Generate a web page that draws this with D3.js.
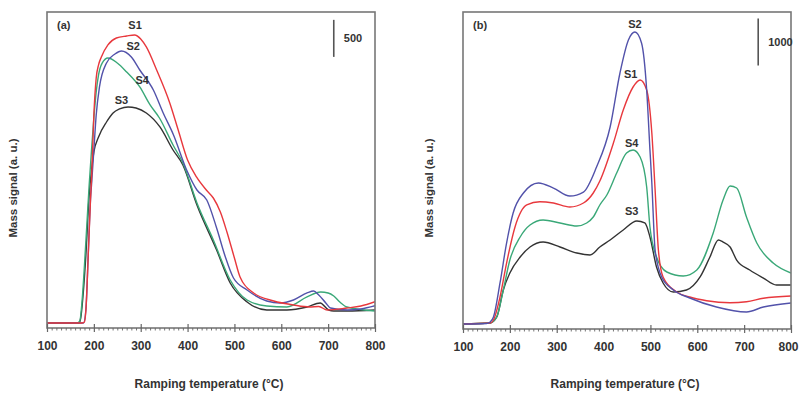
<!DOCTYPE html>
<html><head><meta charset="utf-8">
<script src="https://cdn.jsdelivr.net/npm/d3@7"></script>
<style>
html,body{margin:0;padding:0;background:#fff;}
svg text{font-family:"Liberation Sans",Arial,sans-serif;font-weight:bold;fill:#333;}
</style></head>
<body>
<svg id="chart" width="800" height="393"></svg>
<script>
// ---------- data (temperature in °C, mass signal in a.u.) ----------
const xTicks = [100,200,300,400,500,600,700,800];
const seriesNames = ["S1","S2","S3","S4"];
const seriesColors = {S1:"#e8383d", S2:"#5252aa", S3:"#333333", S4:"#3aa878"};

// Panel (a)
const a_S1 = [[100,68],[175,68],[180,81],[183,243],[188,986],[193,1755],[195,1998],[200,2876],[205,3375],[210,3551],[216,3659],[230,3821],[248,3915],[270,3942],[287,3956],[300,3902],[312,3794],[334,3483],[362,3038],[380,2673],[400,2268],[419,2039],[440,1863],[455,1755],[470,1566],[484,1296],[500,945],[512,689],[541,473],[584,365],[626,311],[660,284],[680,290],[698,243],[740,270],[770,297],[800,355]];
const a_S2 = [[100,68],[178,68],[183,243],[188,986],[193,1755],[195,1931],[200,2403],[205,2876],[212,3254],[227,3578],[245,3699],[259,3740],[280,3659],[298,3483],[327,3213],[348,2903],[370,2606],[398,2133],[420,1863],[441,1728],[462,1350],[480,972],[498,675],[527,513],[569,365],[598,338],[626,378],[655,473],[669,500],[680,446],[695,338],[705,270],[741,243],[770,257],[800,300]];
const a_S3 = [[100,68],[168,68],[172,135],[177,446],[183,986],[190,1796],[195,2133],[200,2376],[210,2579],[227,2781],[241,2903],[255,2957],[273,2984],[290,2970],[312,2903],[341,2714],[369,2403],[390,2201],[420,1661],[462,1053],[491,608],[527,351],[569,243],[612,243],[655,284],[683,338],[701,243],[712,230],[740,230],[800,243]];
const a_S4 = [[100,68],[165,68],[170,95],[175,378],[180,851],[185,1391],[190,1931],[195,2403],[200,2835],[205,3186],[210,3416],[218,3578],[230,3645],[250,3578],[270,3456],[298,3254],[320,3011],[340,2835],[369,2471],[390,2228],[420,1688],[455,1188],[491,648],[527,378],[569,297],[612,284],[655,419],[684,486],[700,473],[712,432],[725,351],[740,284],[800,230]];

// Panel (b)
const b_S1 = [[100,106],[158,128],[165,192],[179,681],[193,1404],[211,2171],[236,2639],[264,2709],[293,2681],[328,2596],[357,2681],[378,2894],[392,3149],[421,3958],[442,4660],[463,5150],[478,5299],[492,5086],[503,4171],[510,2958],[517,1681],[527,1107],[556,787],[584,681],[620,602],[670,560],[705,581],[741,653],[800,702]];
const b_S2 = [[100,106],[150,117],[158,149],[165,255],[179,979],[193,1830],[207,2468],[229,2894],[261,3107],[293,3000],[328,2830],[357,2915],[385,3447],[414,4299],[435,5448],[453,6150],[467,6320],[481,6086],[492,5086],[499,3809],[503,3107],[510,1681],[524,1107],[549,830],[584,660],[641,468],[705,362],[741,468],[800,553]];
const b_S3 = [[100,106],[158,128],[172,255],[186,830],[200,1192],[222,1532],[243,1745],[271,1851],[307,1745],[343,1617],[371,1575],[392,1745],[414,1894],[442,2107],[471,2298],[488,2256],[499,1958],[513,1319],[527,979],[549,787],[577,830],[606,1107],[627,1532],[645,1894],[655,1851],[670,1745],[684,1468],[712,1256],[741,1085],[769,936],[800,936]];
const b_S4 = [[100,106],[158,128],[172,255],[186,830],[200,1468],[222,1958],[243,2213],[271,2320],[307,2256],[343,2192],[364,2256],[378,2383],[392,2639],[407,2852],[428,3320],[449,3745],[463,3809],[478,3660],[492,3022],[499,2171],[513,1532],[535,1213],[570,1128],[599,1256],[634,2043],[655,2745],[670,3043],[684,3000],[705,2383],[727,1830],[762,1404],[800,1192]];

// Series label positions (data coords) and scale bars
const a_labels = [["S1",288,4090],["S2",284,3800],["S4",303,3350],["S3",259,3080]];
const b_labels = [["S2",467,6490],["S1",458,5430],["S4",460,3965],["S3",460,2500]];
const a_bar = {value:500, top:4160, label:"500"};
const b_bar = {value:1000, top:6610, label:"1000"};

// ---------- drawing ----------
const svg = d3.select("#chart");

function panel(opt){
  const x = d3.scaleLinear().domain([100,800]).range([opt.left,opt.right]);
  const y = d3.scaleLinear().domain([0,opt.ymax]).range([opt.bottom,opt.top]);
  const g = svg.append("g");

  // curves
  const line = d3.line().x(d=>x(d[0])).y(d=>y(d[1])).curve(d3.curveMonotoneX);
  const clipId = "clip"+opt.tag;
  svg.append("clipPath").attr("id",clipId).append("rect")
    .attr("x",opt.left).attr("y",opt.top).attr("width",opt.right-opt.left).attr("height",opt.bottom-opt.top);
  const cg = g.append("g").attr("clip-path",`url(#${clipId})`);
  opt.order.forEach(name=>{
    cg.append("path").datum(opt.series[name]).attr("d",line)
      .attr("fill","none").attr("stroke",seriesColors[name]).attr("stroke-width",1.4)
      .attr("stroke-linejoin","round");
  });

  // frame
  g.append("rect").attr("x",opt.left).attr("y",opt.top)
    .attr("width",opt.right-opt.left).attr("height",opt.bottom-opt.top)
    .attr("fill","none").attr("stroke","#777").attr("stroke-width",1.6);

  // minor ticks
  const minor = d3.range(100,801,10).filter(v=>v%100!==0);
  const ax1 = g.append("g").attr("transform",`translate(0,${opt.bottom})`)
    .call(d3.axisBottom(x).tickValues(minor).tickSize(2.5).tickFormat(""));
  ax1.select(".domain").remove();
  ax1.selectAll("line").attr("stroke","#666").attr("stroke-width",0.9);

  // major ticks + labels
  const ax2 = g.append("g").attr("transform",`translate(0,${opt.bottom})`)
    .call(d3.axisBottom(x).tickValues(xTicks).tickSize(4).tickPadding(9).tickFormat(d3.format("d")));
  ax2.select(".domain").remove();
  ax2.selectAll("line").attr("y1",-4).attr("stroke","#666").attr("stroke-width",1.2);
  ax2.selectAll("text").style("font-size","12px").style("font-family","'Liberation Sans',Arial,sans-serif")
    .style("font-weight","bold").attr("fill","#333")
    .attr("dx", d => (d===800 && opt.right>780) ? -3 : 0);

  // axis titles
  const cx = (opt.left+opt.right)/2;
  g.append("text").attr("x",cx-2).attr("y",388).attr("text-anchor","middle")
    .style("font-size","12px").text("Ramping temperature (°C)");
  g.append("text").attr("transform",`translate(${opt.left-30},188) rotate(-90)`)
    .attr("text-anchor","middle").style("font-size","11.5px").text("Mass signal (a. u.)");

  // panel tag
  g.append("text").attr("x",opt.left+10).attr("y",opt.top+17).style("font-size","11px").text(opt.tagText);

  // series labels
  opt.labels.forEach(l=>{
    g.append("text").attr("x",x(l[1])).attr("y",y(l[2])).attr("text-anchor","middle")
      .attr("dy","0.35em").style("font-size","11px").text(l[0]);
  });

  // scale bar
  const bx = x(opt.barX);
  g.append("line").attr("x1",bx).attr("x2",bx)
    .attr("y1",y(opt.bar.top)).attr("y2",y(opt.bar.top-opt.bar.value))
    .attr("stroke","#555").attr("stroke-width",1.6);
  g.append("text").attr("x",bx+10).attr("y",(y(opt.bar.top)+y(opt.bar.top-opt.bar.value))/2)
    .attr("dy","0.35em").style("font-size","11px").text(opt.bar.label);
}

panel({tag:"a", tagText:"(a)", left:47, right:375, top:12, bottom:328, ymax:4266,
  series:{S1:a_S1,S2:a_S2,S3:a_S3,S4:a_S4}, order:["S3","S4","S2","S1"],
  labels:a_labels, bar:a_bar, barX:712});
panel({tag:"b", tagText:"(b)", left:463, right:791, top:12, bottom:329, ymax:6746,
  series:{S1:b_S1,S2:b_S2,S3:b_S3,S4:b_S4}, order:["S3","S4","S1","S2"],
  labels:b_labels, bar:b_bar, barX:730});
</script>
</body></html>
